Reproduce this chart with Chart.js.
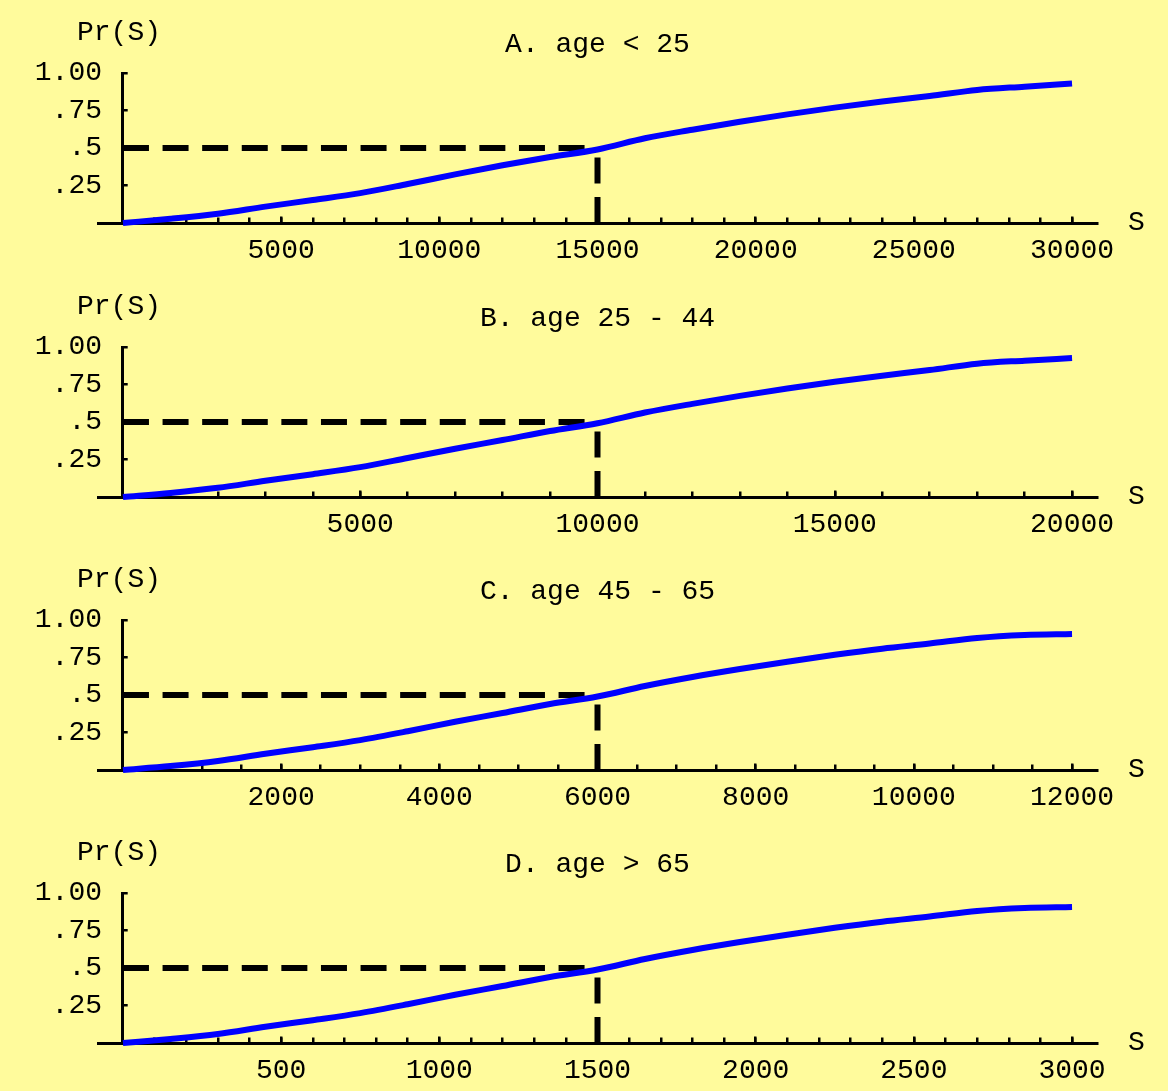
<!DOCTYPE html>
<html>
<head>
<meta charset="utf-8">
<script src="https://cdn.jsdelivr.net/npm/chart.js@4.4.1/dist/chart.umd.min.js"></script>
<style>
  html, body { margin: 0; padding: 0; background: #FFFB9C; overflow: hidden; }
  #wrap { position: relative; width: 1168px; height: 1091px; }
  canvas { position: absolute; left: 0; }
</style>
</head>
<body>
<div id="wrap">
  <canvas id="panelA" width="1168" height="273" style="top:0px"></canvas>
  <canvas id="panelB" width="1168" height="273" style="top:274px"></canvas>
  <canvas id="panelC" width="1168" height="273" style="top:547px"></canvas>
  <canvas id="panelD" width="1168" height="273" style="top:820px"></canvas>
</div>
<script>
// panel titles
const titles = ['A. age < 25', 'B. age 25 - 44', 'C. age 45 - 65', 'D. age > 65'];

// S values (x) and Pr(S)
const sA = [0, 1500, 3000, 4500, 6000, 7500, 9000, 10500, 12000, 13500, 15000,
            16500, 18000, 19500, 21000, 22500, 24000, 25500, 27000, 28500, 30000];
const prA = [0, 0.028, 0.062, 0.109, 0.153, 0.199, 0.260, 0.324, 0.385, 0.440, 0.490,
             0.565, 0.622, 0.675, 0.724, 0.769, 0.810, 0.846, 0.887, 0.909, 0.930];

const sB = [0, 1000, 2000, 3000, 4000, 5000, 6000, 7000, 8000, 9000, 10000,
            11000, 12000, 13000, 14000, 15000, 16000, 17000, 18000, 19000, 20000];
const prB = [0, 0.027, 0.061, 0.108, 0.152, 0.199, 0.260, 0.322, 0.380, 0.440, 0.492,
             0.563, 0.621, 0.674, 0.723, 0.768, 0.809, 0.846, 0.889, 0.909, 0.926];

const sC = [0, 600, 1200, 1800, 2400, 3000, 3600, 4200, 4800, 5400, 6000,
            6600, 7200, 7800, 8400, 9000, 9600, 10200, 10800, 11400, 12000];
const prC = [0, 0.026, 0.060, 0.108, 0.152, 0.199, 0.258, 0.322, 0.380, 0.440, 0.490,
             0.560, 0.620, 0.673, 0.722, 0.768, 0.809, 0.843, 0.880, 0.900, 0.907];

const sD = [0, 150, 300, 450, 600, 750, 900, 1050, 1200, 1350, 1500,
            1650, 1800, 1950, 2100, 2250, 2400, 2550, 2700, 2850, 3000];
const prD = [0, 0.027, 0.060, 0.108, 0.152, 0.199, 0.258, 0.322, 0.380, 0.440, 0.490,
             0.560, 0.620, 0.673, 0.722, 0.768, 0.809, 0.843, 0.880, 0.900, 0.907];

// median S where the dashed guides meet
const halves = [15000, 10000, 6000, 1500];

// labelled x ticks and minor tick spacing
const majorA = [5000, 10000, 15000, 20000, 25000, 30000];
const majorB = [5000, 10000, 15000, 20000];
const majorC = [2000, 4000, 6000, 8000, 10000, 12000];
const majorD = [500, 1000, 1500, 2000, 2500, 3000];
const minorSteps = [1000, 1000, 500, 100];

// y ticks
const yTicks = [0.25, 0.5, 0.75, 1];
const yLabels = ['.25', '.5', '.75', '1.00'];

const FAMILY = "'Liberation Mono', 'DejaVu Sans Mono', monospace";
const FONT = { family: FAMILY, size: 28, lineHeight: 1 };

const textPlugin = {
    id: 'panelText',
    afterDraw(chart, args, opts) {
        const { ctx, chartArea } = chart;
        ctx.save();
        ctx.fillStyle = '#000';
        ctx.font = '28px ' + FAMILY;
        ctx.textBaseline = 'alphabetic';
        ctx.textAlign = 'left';
        ctx.fillText('Pr(S)', 77, chartArea.top - 33);
        ctx.textAlign = 'center';
        ctx.fillText(opts.title, (chartArea.left + chartArea.right) / 2, chartArea.top - 21);
        ctx.textAlign = 'left';
        ctx.fillText('S', 1128, chartArea.bottom + 7);
        ctx.restore();
    }
};

function makePanel(canvasId, title, s, pr, half, major, minorStep) {
    const max = s[s.length - 1];
    const ext = max * 0.0263;
    const ctx = document.getElementById(canvasId).getContext('2d');

    const dashed = {
        showLine: true,
        borderColor: '#000',
        borderWidth: 6,
        borderDash: [26, 13.6],
        borderCapStyle: 'butt',
        pointRadius: 0,
        clip: false
    };

    return new Chart(ctx, {
        type: 'scatter',
        data: {
            datasets: [
                {
                    data: s.map((v, i) => ({ x: v, y: pr[i] })),
                    showLine: true,
                    borderColor: '#0000ff',
                    borderWidth: 6,
                    pointRadius: 0,
                    cubicInterpolationMode: 'monotone',
                    clip: false
                },
                Object.assign({ data: [{ x: 0, y: 0.5 }, { x: half, y: 0.5 }] }, dashed),
                Object.assign({ data: [{ x: half, y: 0 }, { x: half, y: 0.5 }] }, dashed)
            ]
        },
        options: {
            responsive: false,
            animation: false,
            layout: { padding: { left: 0, right: 71, top: 73, bottom: 50 } },
            plugins: {
                legend: { display: false },
                tooltip: { enabled: false },
                panelText: { title: title }
            },
            scales: {
                x: {
                    type: 'linear',
                    position: { y: 0 },
                    min: -ext,
                    max: max + ext,
                    border: { display: true, color: '#000', width: 3 },
                    grid: { drawOnChartArea: false, color: '#000', lineWidth: 2.5, tickLength: -8.5 },
                    ticks: {
                        color: '#000', font: FONT, padding: 21.8, maxRotation: 0, autoSkip: false,
                        callback: (v) => String(v)
                    },
                    afterBuildTicks: (scale) => { scale.ticks = major.map(v => ({ value: v })); }
                },
                xMinor: {
                    type: 'linear',
                    axis: 'x',
                    position: { y: 0 },
                    min: -ext,
                    max: max + ext,
                    border: { display: false },
                    grid: { drawOnChartArea: false, color: '#000', lineWidth: 2.5, tickLength: -5.5 },
                    ticks: { display: false },
                    afterBuildTicks: (scale) => {
                        const t = [];
                        for (let v = minorStep; v <= max + 1e-9; v += minorStep) t.push({ value: v });
                        scale.ticks = t;
                    }
                },
                y: {
                    type: 'linear',
                    position: { x: 0 },
                    min: 0,
                    max: 1,
                    border: { display: true, color: '#000', width: 3 },
                    grid: { drawOnChartArea: false, color: '#000', lineWidth: 2.5, tickLength: -6.7 },
                    ticks: { display: false },
                    afterBuildTicks: (scale) => { scale.ticks = yTicks.map(v => ({ value: v })); }
                },
                yLab: {
                    type: 'linear',
                    axis: 'y',
                    position: 'left',
                    min: 0,
                    max: 1,
                    border: { display: false },
                    grid: { display: false, drawTicks: false },
                    ticks: {
                        color: '#000', font: FONT, mirror: true, crossAlign: 'far', padding: -63.2,
                        callback: (v) => yLabels[yTicks.indexOf(v)]
                    },
                    afterBuildTicks: (scale) => { scale.ticks = yTicks.map(v => ({ value: v })); },
                    afterFit: (scale) => { scale.width = 98; }
                }
            }
        },
        plugins: [textPlugin]
    });
}

makePanel('panelA', titles[0], sA, prA, halves[0], majorA, minorSteps[0]);
makePanel('panelB', titles[1], sB, prB, halves[1], majorB, minorSteps[1]);
makePanel('panelC', titles[2], sC, prC, halves[2], majorC, minorSteps[2]);
makePanel('panelD', titles[3], sD, prD, halves[3], majorD, minorSteps[3]);
</script>
</body>
</html>
